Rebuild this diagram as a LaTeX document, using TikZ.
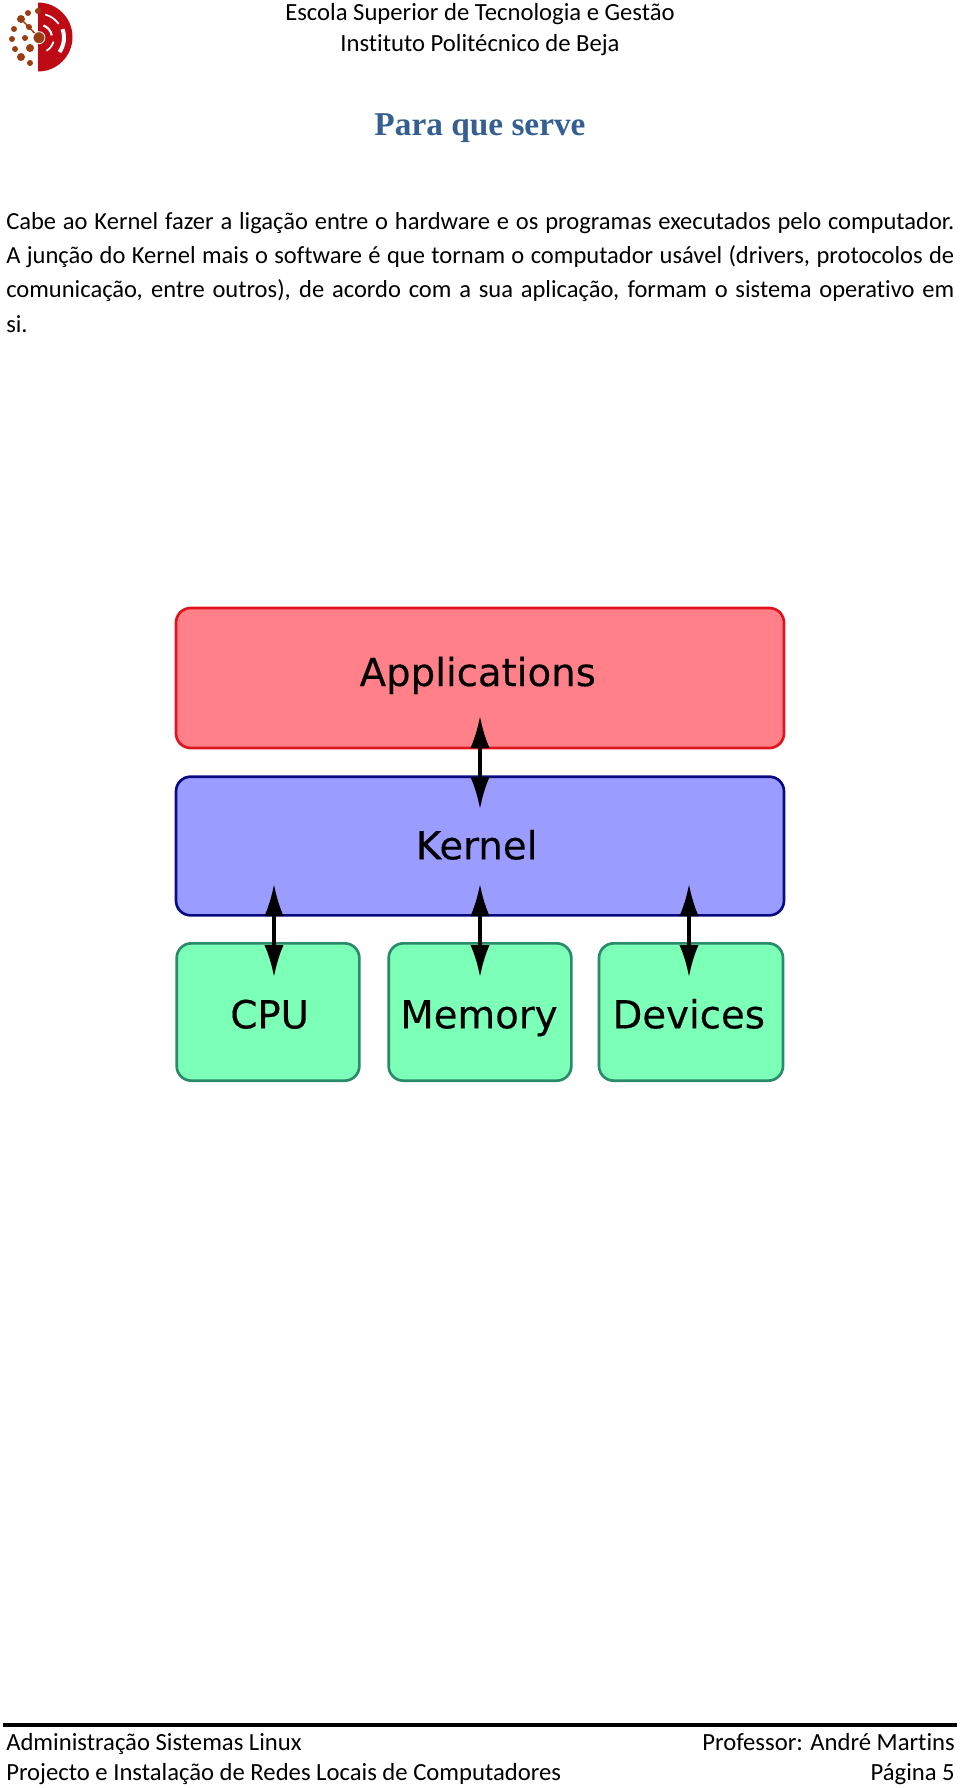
\documentclass[tikz,border=0pt]{standalone}
\usepackage{fontspec}
\setmainfont{Carlito}[Ligatures=NoCommon]
\newfontfamily\titlefont{Liberation Serif}
\newfontfamily\labelfont{DejaVu Sans}[FakeBold=0.3]
\definecolor{title-blue}{HTML}{365F91}
\definecolor{logo-red}{HTML}{BE0A14}
\definecolor{logo-brown}{HTML}{9A3D14}
\definecolor{apps-line}{HTML}{E0141E}
\definecolor{apps-fill}{HTML}{FF8088}
\definecolor{kernel-line}{HTML}{0A0A80}
\definecolor{kernel-fill}{HTML}{9A9CFF}
\definecolor{hardware-line}{HTML}{2A8A6A}
\definecolor{hardware-fill}{HTML}{7CFFB6}
\usetikzlibrary{arrows.meta}
\tikzset{
    layer-box/.style = {draw=#1, line width=2pt, rectangle, rounded corners=11pt, inner sep=0pt, text depth=0pt, font=\labelfont\fontsize{29}{34}\selectfont},
    apps-box/.style = {layer-box=apps-line, fill=apps-fill, minimum width=456pt, minimum height=105pt, text height=12pt},
    kernel-box/.style = {layer-box=kernel-line, fill=kernel-fill, minimum width=456pt, minimum height=104pt, text height=20pt},
    hardware-box/.style = {layer-box=hardware-line, fill=hardware-fill, minimum height=103pt, text height=24.5pt},
    link/.style = {<->, >={Latex[length=24pt,width=14.5pt]}, line width=2.5pt, black},
    header-text/.style = {font=\fontsize{18.5}{22}\selectfont, anchor=base, inner sep=0pt},
    body-text/.style = {font=\fontsize{18.4}{25.7}\selectfont, anchor=north west, inner sep=0pt, text width=711pt, align=justify},
    footer-text/.style = {font=\fontsize{18.5}{22}\selectfont, inner sep=0pt},
    logo-dot/.style = {fill=logo-brown, circle, inner sep=0pt, minimum size=#1},
    logo-arc/.style = {white, line width=#1},
}
\begin{document}
\begin{tikzpicture}[x=0.75pt,y=-0.75pt]
\useasboundingbox (0,0) rectangle (960,1788);
% logo
\fill[logo-red] (38,2.5) arc (-90:90:34.5) -- cycle;
\draw[logo-arc=1.3pt] (39,37.7) ++(-75:24) arc (-75:-35:24);
\draw[logo-arc=3pt] (39,37.7) ++(-20:25) arc (-20:35:25);
\draw[logo-arc=1.6pt] (39,37.7) ++(-70:13) arc (-70:-10:13);
\draw[logo-arc=1.3pt] (39,37.7) ++(15:15) arc (15:60:15);
\draw[logo-brown, line width=1.1pt] (21,19) -- (39,37.7);
\foreach \px/\py/\size in {38/11/4.5pt, 28/13/4.5pt, 21/19/6pt, 29/27/4.5pt, 14/29/4.5pt, 12/39/4.5pt, 25/38/4.5pt, 15/49/4.5pt, 30/48/6pt, 21/57/6pt, 30/63/4.5pt}
    \node[logo-dot=\size] at (\px,\py) {};
\node[logo-dot=9pt, draw=white, line width=0.6pt] at (39,37.7) {};
% header
\node[header-text] (school) at (480,21) {Escola Superior de Tecnologia e Gestão};
\node[header-text] (institute) at (480,51) {Instituto Politécnico de Beja};
\node[font=\titlefont\bfseries\fontsize{25}{28}\selectfont, text=title-blue, inner sep=0pt] (title) at (480,128) {Para que serve};
\node[body-text] (body) at (6,212) {Cabe ao Kernel fazer a ligação entre o hardware e os programas executados pelo computador. A junção do Kernel mais o software é que tornam o computador usável (drivers, protocolos de comunicação, entre outros), de acordo com a sua aplicação, formam o sistema operativo em\linebreak si.};
% layers
\node[apps-box] (apps) at (480,678) {Applications\hspace*{3.4pt}};
\node[kernel-box] (kernel) at (480,846) {Kernel\hspace*{5pt}};
\node[hardware-box, minimum width=137pt] (cpu) at (268,1012) {\hspace*{2.5pt}CPU};
\node[hardware-box, minimum width=137pt] (memory) at (480,1012) {Memory\hspace*{1.5pt}};
\node[hardware-box, minimum width=138pt] (devices) at (691,1012) {Devices\hspace*{3.4pt}};
% arrows
\coordinate (apps-tip) at (480,716);
\coordinate (kernel-top) at (480,809);
\coordinate (kernel-cpu) at (274,884);
\coordinate (kernel-mem) at (480,884);
\coordinate (kernel-dev) at (689,884);
\coordinate (cpu-tip) at (274,977);
\coordinate (mem-tip) at (480,977);
\coordinate (dev-tip) at (689,977);
\draw[link] (apps-tip) -- (kernel-top);
\draw[link] (kernel-cpu) -- (cpu-tip);
\draw[link] (kernel-mem) -- (mem-tip);
\draw[link] (kernel-dev) -- (dev-tip);
% footer
\coordinate (rule-left) at (3,1725);
\coordinate (rule-right) at (957,1725);
\draw[line width=2.4pt] (rule-left) -- (rule-right);
\node[footer-text, anchor=base west] (course) at (6,1750) {Administração Sistemas Linux};
\node[footer-text, anchor=base west] (project) at (6,1780) {Projecto e Instalação de Redes Locais de Computadores};
\node[footer-text, anchor=base east] (teacher) at (955,1750) {Professor: André Martins};
\node[footer-text, anchor=base east] (page) at (955,1780) {Página 5};
\end{tikzpicture}
\end{document}
